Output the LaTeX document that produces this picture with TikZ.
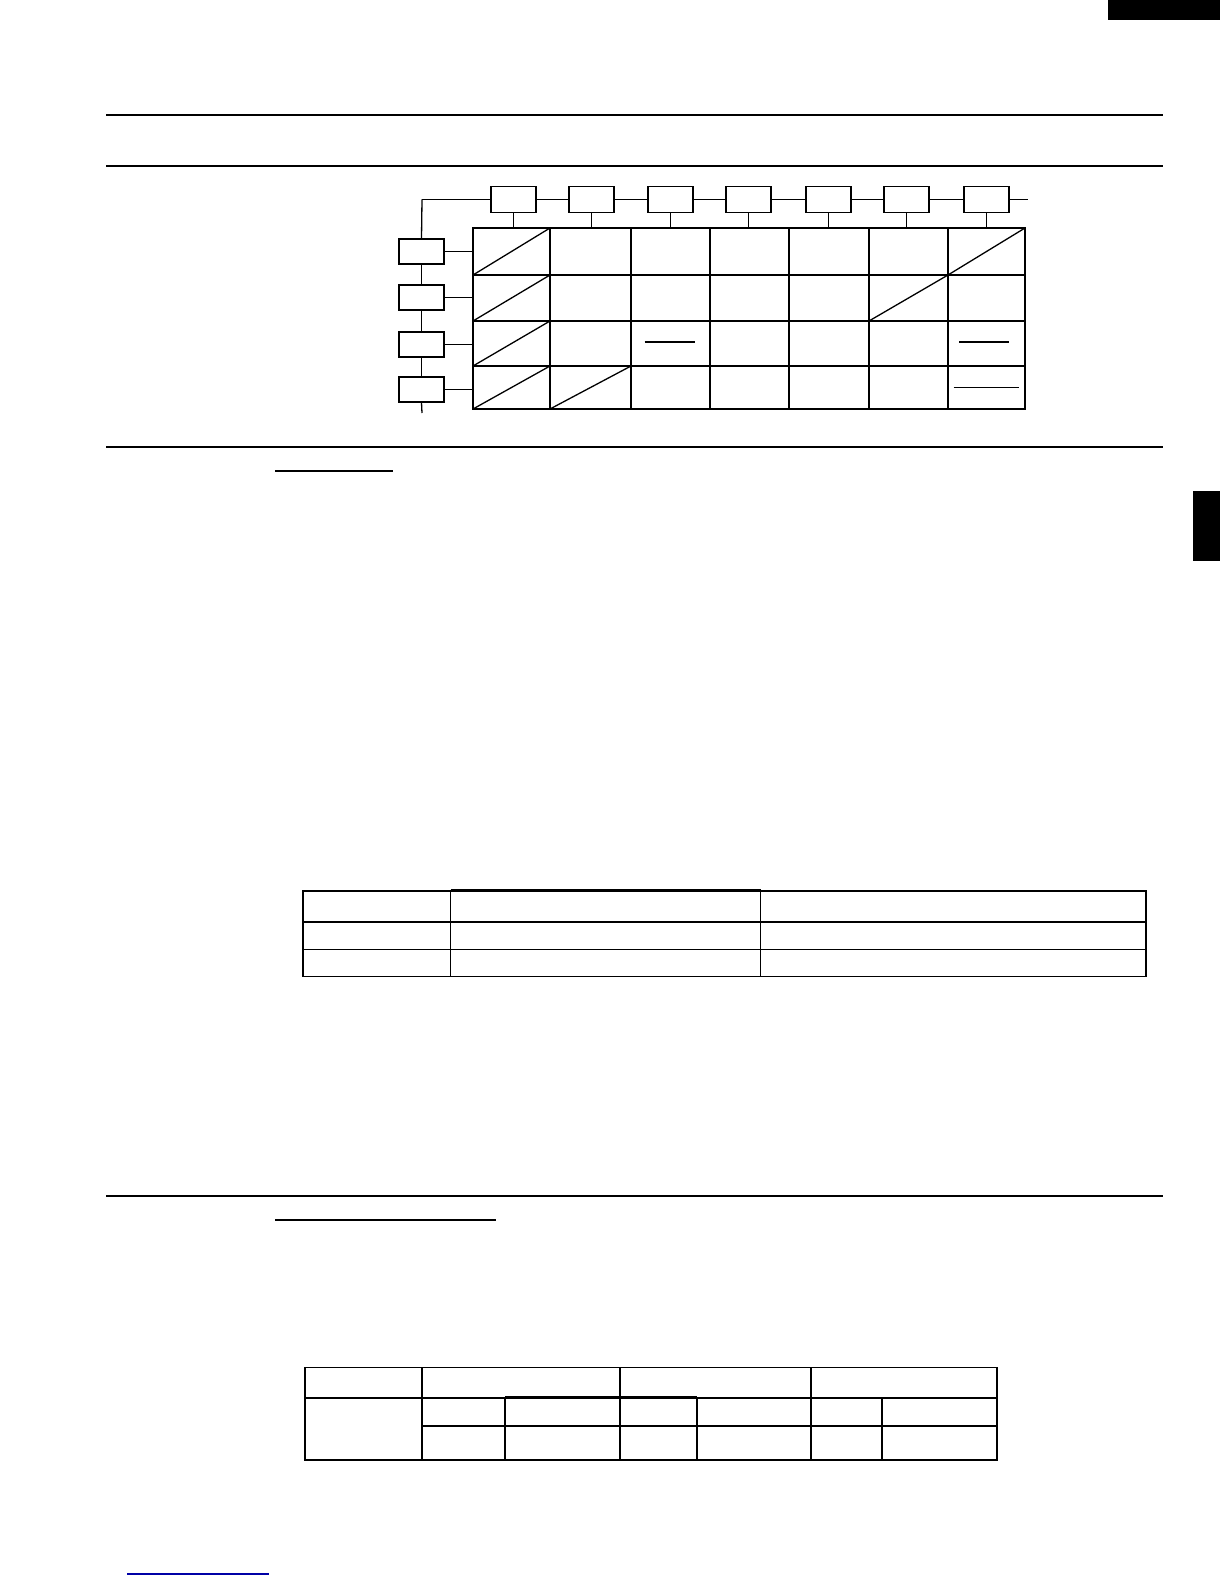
\documentclass[tikz,border=0pt]{standalone}
\usepackage{tikz}
\usetikzlibrary{positioning}
\tikzset{busbox/.style = {draw, rectangle, inner sep = 0, minimum width = 22.5pt, minimum height = 13pt, line width = 0.7pt}}
\tikzset{rule/.style = {line width = 1.1pt}}
\tikzset{thin/.style = {line width = 0.65pt}}

\begin{document}
\begin{tikzpicture}[x=0.5pt, y=-0.5pt, line width=0.65pt]
      \useasboundingbox (0, 0) rectangle (1224, 1584);
      % page marks
      \fill (1108, 0) rectangle (1220, 20.5);
      \fill (1193, 491) rectangle (1220, 561);
      \draw [rule] (106, 115) -- (1163, 115);
      \draw [rule] (106, 166) -- (1163, 166);
      \draw [rule] (106, 447) -- (1163, 447);
      \draw [rule] (106, 1196) -- (1163, 1196);
      \draw [thin] (275, 471) -- (393, 471);
      \draw [thin] (275, 1220) -- (496, 1220);
      \draw [thin, blue!65!black] (127, 1574) -- (269, 1574);
      % bus and boxes
      \coordinate (corner) at (422, 199.5);
      \coordinate (busend) at (1028, 199.5);
      \coordinate (busbottom) at (422, 413);
      \foreach \x [count=\i] in {513.5, 591.5, 670.5, 748.5, 828.5, 906.5, 986.5}
        \node [busbox] (tb\i) at (\x, 199.5) {};
      \foreach \y [count=\i] in {251.5, 297.5, 344.5, 389.5}
        \node [busbox, minimum height=12.5pt] (lb\i) at (421.5, \y) {};
      % grid points
      \foreach \x [count=\c from 0] in {473, 550, 631, 710, 789, 869, 948, 1025}
        \foreach \y [count=\r from 0] in {228, 275, 321, 366, 409}
          \coordinate (g-\c-\r) at (\x, \y);
      \draw (corner) -- (tb1.west);
      \foreach \i [remember=\i as \j (initially 1)] in {2, ..., 7}
        \draw (tb\j.east) -- (tb\i.west);
      \draw (tb7.east) -- (busend);
      \draw (corner) -- (lb1.north);
      \foreach \i [remember=\i as \j (initially 1)] in {2, 3, 4}
        \draw (lb\j.south) -- (lb\i.north);
      \draw (lb4.south) -- (busbottom);
      \foreach \i in {1, ..., 7}
        \draw (tb\i.south) -- (tb\i.south |- g-0-0);
      \foreach \i in {1, ..., 4}
        \draw (lb\i.east) -- (lb\i.east -| g-0-0);
      % grid
      \draw (g-0-0) rectangle (g-7-4);
      \foreach \c in {1, ..., 6}
        \draw (g-\c-0) -- (g-\c-4);
      \foreach \r in {1, 2, 3}
        \draw (g-0-\r) -- (g-7-\r);
      \foreach \c/\r in {1/1, 7/1, 1/2, 6/2, 1/3, 1/4, 2/4} {
        \pgfmathtruncatemacro\cl{\c - 1}
        \pgfmathtruncatemacro\ru{\r - 1}
        \draw (g-\cl-\r) -- (g-\c-\ru);
      }
      \draw (644.5, 342) -- (695, 342);
      \draw (959, 342) -- (1009, 342);
      \draw (953.5, 387.5) -- (1018.5, 387.5);
      % first table
      \draw (303, 891) rectangle (1146, 976.7);
      \draw (303, 922) -- (1146, 922);
      \draw (303, 949.4) -- (1146, 949.4);
      \draw (450.5, 891) -- (450.5, 976.7);
      \draw (760.5, 891) -- (760.5, 976.7);
      \draw [line width=1.1pt] (450.5, 890) -- (760.5, 890);
      % second table
      \draw (305, 1367.5) rectangle (997, 1460);
      \draw (305, 1398) -- (997, 1398);
      \draw (422, 1426) -- (997, 1426);
      \foreach \x in {422, 620, 811}
        \draw (\x, 1367.5) -- (\x, 1460);
      \foreach \x in {505, 697, 882}
        \draw (\x, 1398) -- (\x, 1460);
      \draw [line width=1.1pt] (505, 1397.5) -- (697, 1397.5);
    \end{tikzpicture}
\end{document}
